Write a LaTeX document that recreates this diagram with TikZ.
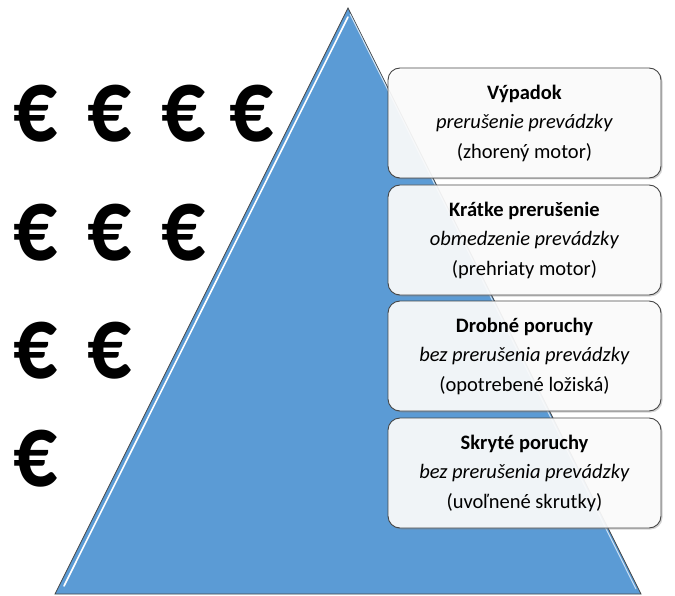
\documentclass[tikz,border=0pt]{standalone}
\usepackage{fontspec}
\setmainfont{Carlito}
\usetikzlibrary{shadows}
\definecolor{pyrblue}{RGB}{91,155,213}
\definecolor{pyredge}{RGB}{70,70,70}
\newcommand{\eurglyph}{\scalebox{0.84}[1]{€}}
\tikzset{
  levelbox/.style={rectangle, rounded corners=12pt, draw=pyredge, line width=0.9pt,
                   fill=white, fill opacity=0.9, text opacity=1,
                   minimum width=273pt, minimum height=110pt,
                   align=center, font=\fontsize{20.5}{29.5}\selectfont,
                   drop shadow={opacity=0.35, shadow xshift=1.5pt, shadow yshift=-1.5pt}},
  eurosign/.style={font=\fontsize{104}{104}\selectfont\bfseries, inner sep=0pt},
}

\begin{document}
\begin{tikzpicture}[x=1pt, y=-1pt]
  \useasboundingbox (0,0) rectangle (675,596);
  % pyramid
  \filldraw[fill=pyrblue, draw=pyredge, line width=0.8pt]
    (348,8) -- (641,594) -- (55,594) -- cycle;
  \draw[white, line width=1.6pt, line cap=round] (348,17) -- (64,586);
  \draw[white!70!pyrblue, line width=1pt] (350,14) -- (636,589);
  % euro signs
  \foreach \n/\y in {4/114, 3/233, 2/351, 1/459}
    \foreach \x [count=\c] in {36,110,184,252}
      {\ifnum\c>\n\else
        \node[eurosign] (eur-\n-\c) at (\x, \y) {\eurglyph};
      \fi}
  % levels
  \node[levelbox] (vypadok) at (524.5,123)
    {\textbf{Výpadok}\\\textit{prerušenie prevádzky}\\(zhorený motor)};
  \node[levelbox] (kratke) at (524.5,240)
    {\textbf{Krátke prerušenie}\\\textit{obmedzenie prevádzky}\\(prehriaty motor)};
  \node[levelbox] (drobne) at (524.5,356)
    {\textbf{Drobné poruchy}\\\textit{bez prerušenia prevádzky}\\(opotrebené ložiská)};
  \node[levelbox] (skryte) at (524.5,473)
    {\textbf{Skryté poruchy}\\\textit{bez prerušenia prevádzky}\\(uvoľnené skrutky)};
\end{tikzpicture}
\end{document}
